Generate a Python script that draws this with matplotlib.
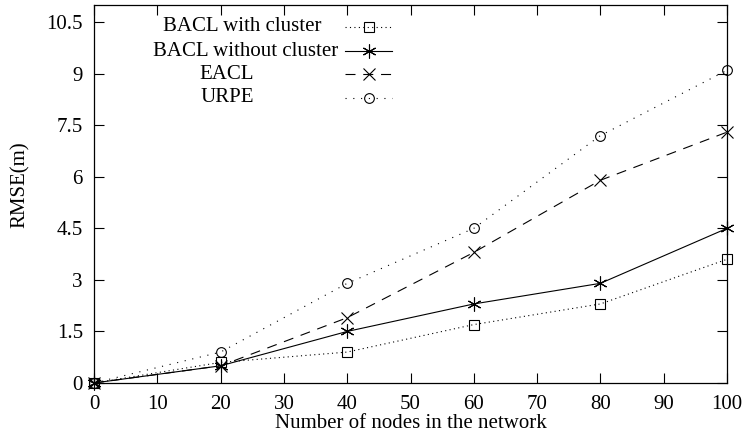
import matplotlib
matplotlib.use("Agg")
import matplotlib.pyplot as plt
from matplotlib.ticker import FuncFormatter

plt.rcParams["font.family"] = ["Liberation Serif", "DejaVu Serif"]

nodes = [0, 20, 40, 60, 80, 100]
bacl_cluster = [0, 0.6, 0.9, 1.7, 2.3, 3.6]
bacl_no_cluster = [0, 0.5, 1.5, 2.3, 2.9, 4.5]
eacl = [0, 0.5, 1.9, 3.8, 5.9, 7.3]
urpe = [0, 0.9, 2.9, 4.5, 7.2, 9.1]

labels = ["BACL with cluster", "BACL without cluster", "EACL", "URPE"]
series = [bacl_cluster, bacl_no_cluster, eacl, urpe]
styles = [
    dict(ls=(0, (1, 3)), marker="s", ms=7),
    dict(ls="-", marker=(6, 2, 0), ms=10),
    dict(ls=(0, (9, 7)), marker="x", ms=9),
    dict(ls=(0, (1, 6)), marker="o", ms=7),
]

fig = plt.figure(figsize=(7.43, 4.37), dpi=100)
ax = fig.add_axes([0.1265, 0.1236, 0.852, 0.865])

for y, st in zip(series, styles):
    ax.plot(nodes, y, color="black", lw=0.8, ls=st["ls"], marker=st["marker"],
            ms=st["ms"], mfc="none", mec="black", mew=0.8, clip_on=False)

# gnuplot-style key, sample on the right of the text
key_y = [0.942, 0.878, 0.817, 0.754]
key_x = [0.234, 0.239, 0.210, 0.211]
for lab, st, kx, ky in zip(labels, styles, key_x, key_y):
    ax.text(kx, ky, lab, transform=ax.transAxes, ha="center", va="center", fontsize=15)
    ax.plot([0.3965, 0.471], [ky, ky], transform=ax.transAxes, color="black", lw=0.8,
            ls=st["ls"], clip_on=False)
    ax.plot([0.434], [ky], transform=ax.transAxes, color="black", marker=st["marker"],
            ms=st["ms"], mfc="none", mec="black", mew=0.8, clip_on=False)

ax.set_xlim(0, 100)
ax.set_ylim(0, 11)
ax.set_xticks(range(0, 101, 10))
ax.set_yticks([0, 1.5, 3, 4.5, 6, 7.5, 9, 10.5])
ax.yaxis.set_major_formatter(FuncFormatter(lambda v, p: f"{v:g}"))
ax.tick_params(direction="in", length=7, width=0.8, top=True, right=True, labelsize=15)
ax.tick_params(axis="y", pad=8)
ax.tick_params(axis="x", pad=9)
for s in ax.spines.values():
    s.set_linewidth(0.9)

ax.set_xlabel("Number of nodes in the network", fontsize=15, labelpad=0)
ax.set_ylabel("RMSE(m)", fontsize=15, labelpad=12, y=0.524)

fig.savefig("out.png", dpi=100)
plt.close(fig)
